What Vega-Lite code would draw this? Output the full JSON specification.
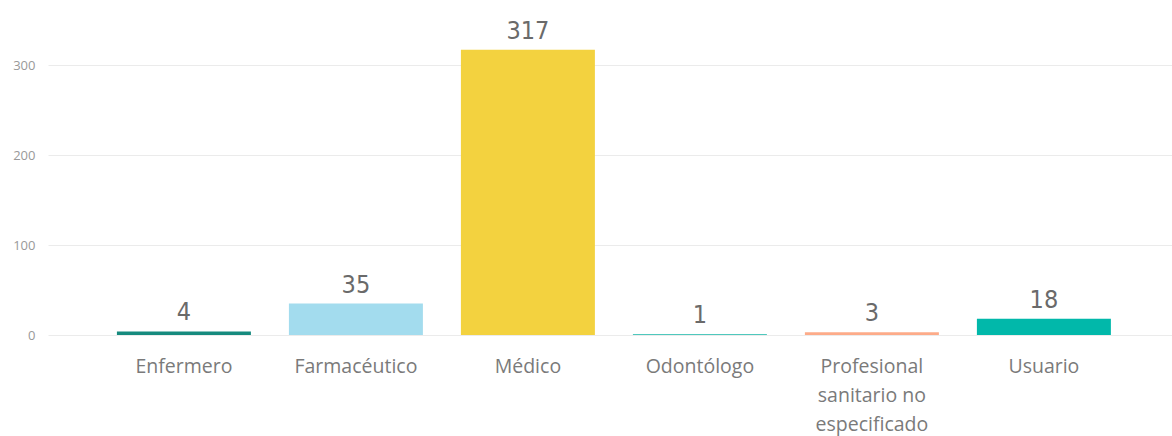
{
  "$schema": "https://vega.github.io/schema/vega-lite/v6.json",
  "width": 1124,
  "height": 315,
  "autosize": {"type": "none"},
  "padding": {"left": 48, "top": 20, "right": 0, "bottom": 101},
  "background": "#ffffff",
  "config": {"view": {"stroke": null}},
  "data": {
    "values": [
      {"categoria": "Enfermero", "valor": 4},
      {"categoria": "Farmacéutico", "valor": 35},
      {"categoria": "Médico", "valor": 317},
      {"categoria": "Odontólogo", "valor": 1},
      {"categoria": "Profesional sanitario no especificado", "valor": 3},
      {"categoria": "Usuario", "valor": 18}
    ]
  },
  "encoding": {
    "x": {
      "field": "categoria",
      "type": "nominal",
      "sort": null,
      "scale": {"paddingInner": 0.221, "paddingOuter": 0.378, "align": 0.53},
      "axis": {
        "title": null,
        "labelAngle": 0,
        "domain": false,
        "ticks": false,
        "labelPadding": 22,
        "labelFont": "Open Sans",
        "labelFontSize": 19.5,
        "labelColor": "#7a7a7a",
        "labelBaseline": "top",
        "labelLineHeight": 29,
        "labelLimit": 300,
        "labelExpr": "datum.label == 'Profesional sanitario no especificado' ? ['Profesional', 'sanitario no', 'especificado'] : datum.label"
      }
    },
    "y": {
      "field": "valor",
      "type": "quantitative",
      "scale": {"domain": [0, 350], "nice": false},
      "axis": {
        "title": null,
        "values": [0, 100, 200, 300],
        "domain": false,
        "ticks": false,
        "labelPadding": 13,
        "labelFont": "Open Sans",
        "labelFontSize": 13,
        "labelColor": "#999999",
        "gridColor": "#ebebeb",
        "gridWidth": 1
      }
    }
  },
  "layer": [
    {
      "mark": {"type": "bar"},
      "encoding": {
        "color": {
          "field": "categoria",
          "type": "nominal",
          "sort": null,
          "legend": null,
          "scale": {
            "domain": ["Enfermero", "Farmacéutico", "Médico", "Odontólogo", "Profesional sanitario no especificado", "Usuario"],
            "range": ["#168a7e", "#a3dcee", "#f3d23f", "#4fc8bd", "#fdab89", "#01b8aa"]
          }
        }
      }
    },
    {
      "mark": {
        "type": "text",
        "baseline": "alphabetic",
        "dy": -11,
        "font": "DejaVu Sans Condensed",
        "fontSize": 25,
        "letterSpacing": 1.5,
        "color": "#6a6a6a"
      },
      "encoding": {"text": {"field": "valor", "type": "quantitative"}}
    }
  ]
}
